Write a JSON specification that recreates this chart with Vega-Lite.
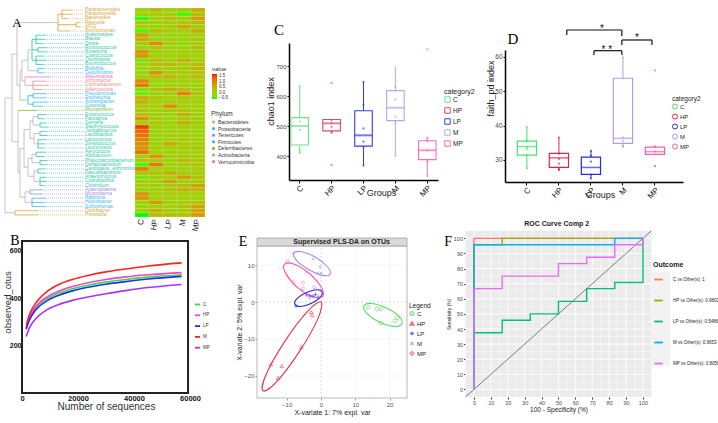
{
"$schema":"https://vega.github.io/schema/vega-lite/v6.json",
"width":718,"height":423,"autosize":{"type":"none"},"padding":0,"background":"white",
"config":{"view":{"stroke":null},"font":"Liberation Sans","axis":{"grid":false,"labelOverlap":false,"labelFlush":false},"text":{"font":"Liberation Sans"}},
"resolve":{"scale":{"x":"independent","y":"independent","color":"independent","stroke":"independent","shape":"independent","strokeWidth":"independent"},"axis":{"x":"independent","y":"independent"},"legend":{"color":"independent","stroke":"independent","shape":"independent","strokeWidth":"independent"}},
"datasets":{
"taxa":[
{"r":1,"t":"Parabacteroides","p":"Bacteroidetes","ph":22,"h":12,"C":0,"HP":0.4,"LP":0.1,"M":0.15,"MP":0.55},
{"r":2,"t":"Paraprevotella","p":"Bacteroidetes","ph":22,"h":12,"C":0.1,"HP":0.15,"LP":0.15,"M":-0.45,"MP":0.3},
{"r":3,"t":"Bacteroides","p":"Bacteroidetes","ph":22,"h":16,"C":-0.5,"HP":0.1,"LP":0.3,"M":0.15,"MP":0.75},
{"r":4,"t":"Rikenella","p":"Bacteroidetes","ph":8,"h":4,"C":0.15,"HP":0.05,"LP":0.1,"M":0.15,"MP":0.4},
{"r":5,"t":"AF12","p":"Bacteroidetes","ph":8,"h":4,"C":0.1,"HP":0.05,"LP":0.15,"M":0.6,"MP":0.05},
{"r":6,"t":"Butyricimonas","p":"Bacteroidetes","ph":26,"h":14,"C":-0.4,"HP":0.35,"LP":0.15,"M":0.1,"MP":0.6},
{"r":7,"t":"Anaerostipes","p":"Firmicutes","ph":48,"h":39,"C":0.7,"HP":0.1,"LP":0,"M":0.1,"MP":0.1},
{"r":8,"t":"Blautia","p":"Firmicutes","ph":48,"h":39,"C":0.6,"HP":0,"LP":0.1,"M":0.05,"MP":0.2},
{"r":9,"t":"Dorea","p":"Firmicutes","ph":48,"h":42,"C":0.15,"HP":0.95,"LP":0.1,"M":0,"MP":0.1},
{"r":10,"t":"Ruminococcus","p":"Firmicutes","ph":46,"h":37,"C":0,"HP":0.25,"LP":0.1,"M":0,"MP":0.35},
{"r":11,"t":"Roseburia","p":"Firmicutes","ph":46,"h":37,"C":0.85,"HP":0.1,"LP":0.1,"M":0.1,"MP":0},
{"r":12,"t":"Coprococcus","p":"Firmicutes","ph":48,"h":40,"C":0.8,"HP":0.1,"LP":0,"M":0.1,"MP":0.1},
{"r":13,"t":"Oscillospira","p":"Firmicutes","ph":48,"h":38,"C":-0.2,"HP":0.25,"LP":0.1,"M":0.5,"MP":0.1},
{"r":14,"t":"Butyricicoccus","p":"Firmicutes","ph":48,"h":40,"C":0,"HP":0.35,"LP":0.45,"M":0.1,"MP":0.3},
{"r":15,"t":"Bilophila","p":"Proteobacteria","ph":46,"h":40,"C":0,"HP":0.1,"LP":0.15,"M":0.25,"MP":0.45},
{"r":16,"t":"Desulfovibrio","p":"Proteobacteria","ph":46,"h":40,"C":0,"HP":0.85,"LP":0.1,"M":0.1,"MP":0.2},
{"r":17,"t":"Akkermansia","p":"Verrucomicrobia","ph":59,"h":34,"C":0.1,"HP":0.25,"LP":0.45,"M":0.15,"MP":0.3},
{"r":18,"t":"Arthrobacter","p":"Actinobacteria","ph":51,"h":38,"C":0.95,"HP":0,"LP":0.1,"M":0.1,"MP":0.1},
{"r":19,"t":"Corynebacterium","p":"Actinobacteria","ph":51,"h":36,"C":1.15,"HP":0,"LP":0,"M":0.1,"MP":0.1},
{"r":20,"t":"Adlercreutzia","p":"Actinobacteria","ph":51,"h":42,"C":-0.2,"HP":0.3,"LP":0.55,"M":0.35,"MP":0.1},
{"r":21,"t":"Pseudomonas","p":"Proteobacteria","ph":51,"h":38,"C":-0.3,"HP":0,"LP":0.1,"M":1,"MP":0.25},
{"r":22,"t":"Escherichia","p":"Proteobacteria","ph":51,"h":38,"C":0.55,"HP":0.25,"LP":0.1,"M":0.2,"MP":0.1},
{"r":23,"t":"Acinetobacter","p":"Proteobacteria","ph":51,"h":36,"C":0.5,"HP":0.1,"LP":0.1,"M":0.1,"MP":0.1},
{"r":24,"t":"Sutterella","p":"Proteobacteria","ph":51,"h":42,"C":0.1,"HP":0.1,"LP":0.85,"M":0.1,"MP":0.1},
{"r":25,"t":"Mucispirillum","p":"Deferribacteres","ph":66,"h":47,"C":0.25,"HP":0.1,"LP":0.2,"M":0.2,"MP":0.1},
{"r":26,"t":"Enterococcus","p":"Firmicutes","ph":46,"h":38,"C":0.3,"HP":0.1,"LP":0.1,"M":0.5,"MP":0.1},
{"r":27,"t":"Facklamia","p":"Firmicutes","ph":46,"h":40,"C":0.85,"HP":0.1,"LP":0,"M":0.1,"MP":0.1},
{"r":28,"t":"Gemella","p":"Firmicutes","ph":44,"h":38,"C":0.1,"HP":0.2,"LP":0.1,"M":0.55,"MP":0.1},
{"r":29,"t":"Staphylococcus","p":"Firmicutes","ph":44,"h":36,"C":1.55,"HP":0.1,"LP":0,"M":0.1,"MP":0.05},
{"r":30,"t":"Jeotgalicoccus","p":"Firmicutes","ph":44,"h":37,"C":1.3,"HP":0,"LP":0.1,"M":0.1,"MP":0},
{"r":31,"t":"Lactobacillus","p":"Firmicutes","ph":44,"h":37,"C":1.2,"HP":0.1,"LP":0.1,"M":0.1,"MP":0.1},
{"r":32,"t":"Lactococcus","p":"Firmicutes","ph":46,"h":38,"C":1.05,"HP":0,"LP":0.1,"M":0.2,"MP":0.1},
{"r":33,"t":"Streptococcus","p":"Firmicutes","ph":46,"h":39,"C":0.9,"HP":0.1,"LP":0.6,"M":0.1,"MP":0.1},
{"r":34,"t":"Leuconostoc","p":"Firmicutes","ph":46,"h":40,"C":0.85,"HP":0.1,"LP":0.1,"M":0.2,"MP":0.2},
{"r":35,"t":"Aerococcus","p":"Firmicutes","ph":48,"h":38,"C":1.2,"HP":0.1,"LP":0.1,"M":0.1,"MP":0.1},
{"r":36,"t":"Allobaculum","p":"Firmicutes","ph":48,"h":40,"C":0.15,"HP":0.8,"LP":0.1,"M":0.1,"MP":0.1},
{"r":37,"t":"Phascolarctobacterium","p":"Firmicutes","ph":44,"h":37,"C":0.25,"HP":0.2,"LP":0.1,"M":0.45,"MP":0.2},
{"r":38,"t":"Dehalobacterium","p":"Firmicutes","ph":44,"h":37,"C":-0.45,"HP":1.1,"LP":0.1,"M":0.1,"MP":0.3},
{"r":39,"t":"Candidatus_Arthromitus","p":"Firmicutes","ph":46,"h":39,"C":1.05,"HP":0.1,"LP":0,"M":0.1,"MP":0.1},
{"r":40,"t":"Faecalibacterium","p":"Firmicutes","ph":46,"h":39,"C":0.25,"HP":0.25,"LP":0.55,"M":0.1,"MP":0.1},
{"r":41,"t":"Anaerotruncus","p":"Firmicutes","ph":44,"h":38,"C":-0.2,"HP":0.1,"LP":0.1,"M":0.75,"MP":0.3},
{"r":42,"t":"Coprobacillus","p":"Firmicutes","ph":44,"h":38,"C":0.1,"HP":0.1,"LP":0.65,"M":0.1,"MP":0.1},
{"r":43,"t":"Clostridium","p":"Firmicutes","ph":44,"h":40,"C":0.1,"HP":0.1,"LP":0.15,"M":0.3,"MP":0.7},
{"r":44,"t":"Anaeroplasma","p":"Tenericutes","ph":54,"h":42,"C":0.1,"HP":0.1,"LP":0.25,"M":0.45,"MP":0.4},
{"r":45,"t":"Mycoplasma","p":"Tenericutes","ph":54,"h":42,"C":0.85,"HP":0.1,"LP":0.1,"M":0.1,"MP":0.1},
{"r":46,"t":"Ralstonia","p":"Proteobacteria","ph":52,"h":38,"C":0.8,"HP":0.1,"LP":0.1,"M":0.1,"MP":0.1},
{"r":47,"t":"Helicobacter","p":"Proteobacteria","ph":52,"h":39,"C":0.1,"HP":0.8,"LP":0.1,"M":0.1,"MP":0.25},
{"r":48,"t":"Sulfurimonas","p":"Proteobacteria","ph":52,"h":38,"C":0,"HP":0.1,"LP":0.1,"M":0.3,"MP":0.65},
{"r":49,"t":"Odoribacter","p":"Bacteroidetes","ph":69,"h":46,"C":0.1,"HP":0.55,"LP":0.1,"M":0.1,"MP":0.65},
{"r":50,"t":"Prevotella","p":"Bacteroidetes","ph":69,"h":46,"C":-0.55,"HP":0.3,"LP":0.3,"M":0.25,"MP":0.75}
],
"tree":[
{"x":22,"x2":22,"y":1,"y2":3,"c":"Bacteroidetes"},{"x":8,"x2":8,"y":4,"y2":5,"c":"Bacteroidetes"},{"x":26,"x2":26,"y":2,"y2":6,"c":"Bacteroidetes"},
{"x":48,"x2":48,"y":7,"y2":9,"c":"Firmicutes"},{"x":46,"x2":46,"y":10,"y2":11,"c":"Firmicutes"},{"x":48,"x2":48,"y":12,"y2":14,"c":"Firmicutes"},{"x":52,"x2":52,"y":8,"y2":13,"c":"Firmicutes"},
{"x":46,"x2":46,"y":15,"y2":16,"c":"Proteobacteria"},{"x":56,"x2":56,"y":10.5,"y2":15.5,"c":"g"},{"x":51,"x2":51,"y":18,"y2":20,"c":"Actinobacteria"},
{"x":59,"x2":59,"y":17,"y2":19,"c":"g"},{"x":62,"x2":62,"y":13,"y2":18,"c":"g"},{"x":51,"x2":51,"y":21,"y2":22,"c":"Proteobacteria"},{"x":51,"x2":51,"y":23,"y2":24,"c":"Proteobacteria"},
{"x":56,"x2":56,"y":21.5,"y2":23.5,"c":"Proteobacteria"},{"x":64,"x2":64,"y":15.5,"y2":22.5,"c":"g"},{"x":67,"x2":67,"y":4,"y2":19,"c":"g"},
{"x":46,"x2":46,"y":26,"y2":27,"c":"Firmicutes"},{"x":44,"x2":44,"y":28,"y2":29,"c":"Firmicutes"},{"x":44,"x2":44,"y":30,"y2":31,"c":"Firmicutes"},{"x":46,"x2":46,"y":32,"y2":34,"c":"Firmicutes"},
{"x":48,"x2":48,"y":35,"y2":36,"c":"Firmicutes"},{"x":44,"x2":44,"y":37,"y2":38,"c":"Firmicutes"},{"x":46,"x2":46,"y":39,"y2":40,"c":"Firmicutes"},{"x":44,"x2":44,"y":41,"y2":43,"c":"Firmicutes"},
{"x":51,"x2":51,"y":26.5,"y2":28.5,"c":"g"},{"x":50,"x2":50,"y":30.5,"y2":33,"c":"g"},{"x":54,"x2":54,"y":27.5,"y2":31.75,"c":"g"},{"x":52,"x2":52,"y":35.5,"y2":37.5,"c":"g"},
{"x":50,"x2":50,"y":39.5,"y2":42,"c":"g"},{"x":56,"x2":56,"y":36.5,"y2":40.75,"c":"g"},{"x":60,"x2":60,"y":29.6,"y2":38.6,"c":"g"},
{"x":54,"x2":54,"y":44,"y2":45,"c":"Tenericutes"},{"x":52,"x2":52,"y":46,"y2":48,"c":"Proteobacteria"},{"x":59,"x2":59,"y":44.5,"y2":47,"c":"g"},
{"x":64,"x2":64,"y":34.1,"y2":45.75,"c":"g"},{"x":66,"x2":66,"y":25,"y2":39.9,"c":"g"},{"x":72,"x2":72,"y":11.5,"y2":32.5,"c":"g"},
{"x":69,"x2":69,"y":49,"y2":50,"c":"Bacteroidetes"},{"x":79,"x2":79,"y":22,"y2":49.5,"c":"g"},
{"x":26,"x2":22,"y":2,"y2":2,"c":"Bacteroidetes"},{"x":26,"x2":8,"y":4.5,"y2":4.5,"c":"Bacteroidetes"},
{"x":52,"x2":48,"y":8,"y2":8,"c":"Firmicutes"},{"x":52,"x2":46,"y":10.5,"y2":10.5,"c":"Firmicutes"},{"x":52,"x2":48,"y":13,"y2":13,"c":"Firmicutes"},
{"x":56,"x2":52,"y":10.5,"y2":10.5,"c":"g"},{"x":56,"x2":46,"y":15.5,"y2":15.5,"c":"g"},{"x":59,"x2":51,"y":19,"y2":19,"c":"g"},
{"x":62,"x2":56,"y":13,"y2":13,"c":"g"},{"x":62,"x2":59,"y":18,"y2":18,"c":"g"},
{"x":56,"x2":51,"y":21.5,"y2":21.5,"c":"Proteobacteria"},{"x":56,"x2":51,"y":23.5,"y2":23.5,"c":"Proteobacteria"},
{"x":64,"x2":62,"y":15.5,"y2":15.5,"c":"g"},{"x":64,"x2":56,"y":22.5,"y2":22.5,"c":"g"},{"x":67,"x2":26,"y":4,"y2":4,"c":"g"},{"x":67,"x2":64,"y":19,"y2":19,"c":"g"},
{"x":51,"x2":46,"y":26.5,"y2":26.5,"c":"g"},{"x":51,"x2":44,"y":28.5,"y2":28.5,"c":"g"},{"x":50,"x2":44,"y":30.5,"y2":30.5,"c":"g"},{"x":50,"x2":46,"y":33,"y2":33,"c":"g"},
{"x":54,"x2":51,"y":27.5,"y2":27.5,"c":"g"},{"x":54,"x2":50,"y":31.75,"y2":31.75,"c":"g"},{"x":52,"x2":48,"y":35.5,"y2":35.5,"c":"g"},{"x":52,"x2":44,"y":37.5,"y2":37.5,"c":"g"},
{"x":50,"x2":46,"y":39.5,"y2":39.5,"c":"g"},{"x":50,"x2":44,"y":42,"y2":42,"c":"g"},{"x":56,"x2":52,"y":36.5,"y2":36.5,"c":"g"},{"x":56,"x2":50,"y":40.75,"y2":40.75,"c":"g"},
{"x":60,"x2":54,"y":29.6,"y2":29.6,"c":"g"},{"x":60,"x2":56,"y":38.6,"y2":38.6,"c":"g"},{"x":59,"x2":54,"y":44.5,"y2":44.5,"c":"g"},{"x":59,"x2":52,"y":47,"y2":47,"c":"g"},
{"x":64,"x2":60,"y":34.1,"y2":34.1,"c":"g"},{"x":64,"x2":59,"y":45.75,"y2":45.75,"c":"g"},{"x":66,"x2":64,"y":39.9,"y2":39.9,"c":"g"},
{"x":72,"x2":67,"y":11.5,"y2":11.5,"c":"g"},{"x":72,"x2":66,"y":32.5,"y2":32.5,"c":"g"},{"x":79,"x2":72,"y":22,"y2":22,"c":"g"},{"x":79,"x2":69,"y":49.5,"y2":49.5,"c":"g"}
],
"rare":[
{"g":"C","n":1500,"v":275},{"g":"C","n":2500,"v":310},{"g":"C","n":4000,"v":344},{"g":"C","n":6000,"v":372},{"g":"C","n":9000,"v":398},{"g":"C","n":13000,"v":420},{"g":"C","n":18000,"v":439},{"g":"C","n":24000,"v":455},{"g":"C","n":30000,"v":467},{"g":"C","n":37000,"v":478},{"g":"C","n":45000,"v":488},{"g":"C","n":57000,"v":498},
{"g":"HP","n":1500,"v":276},{"g":"HP","n":2500,"v":313},{"g":"HP","n":4000,"v":348},{"g":"HP","n":6000,"v":378},{"g":"HP","n":9000,"v":405},{"g":"HP","n":13000,"v":428},{"g":"HP","n":18000,"v":448},{"g":"HP","n":24000,"v":465},{"g":"HP","n":30000,"v":478},{"g":"HP","n":37000,"v":489},{"g":"HP","n":45000,"v":498},{"g":"HP","n":57000,"v":507},
{"g":"LP","n":1500,"v":268},{"g":"LP","n":2500,"v":303},{"g":"LP","n":4000,"v":336},{"g":"LP","n":6000,"v":363},{"g":"LP","n":9000,"v":389},{"g":"LP","n":13000,"v":411},{"g":"LP","n":18000,"v":430},{"g":"LP","n":24000,"v":446},{"g":"LP","n":30000,"v":458},{"g":"LP","n":37000,"v":469},{"g":"LP","n":45000,"v":480},{"g":"LP","n":57000,"v":491},
{"g":"M","n":1500,"v":285},{"g":"M","n":2500,"v":325},{"g":"M","n":4000,"v":362},{"g":"M","n":6000,"v":395},{"g":"M","n":9000,"v":428},{"g":"M","n":13000,"v":456},{"g":"M","n":18000,"v":478},{"g":"M","n":24000,"v":496},{"g":"M","n":30000,"v":510},{"g":"M","n":37000,"v":522},{"g":"M","n":45000,"v":535},{"g":"M","n":57000,"v":548},
{"g":"MP","n":1500,"v":238},{"g":"MP","n":2500,"v":270},{"g":"MP","n":4000,"v":300},{"g":"MP","n":6000,"v":326},{"g":"MP","n":9000,"v":351},{"g":"MP","n":13000,"v":372},{"g":"MP","n":18000,"v":390},{"g":"MP","n":24000,"v":405},{"g":"MP","n":30000,"v":418},{"g":"MP","n":37000,"v":431},{"g":"MP","n":45000,"v":444},{"g":"MP","n":57000,"v":457}
],
"chaoBox":[{"g":"C","lo":409,"q1":437,"med":500,"q3":528,"hi":633},{"g":"HP","lo":478,"q1":484,"med":509,"q3":522,"hi":522},{"g":"LP","lo":368,"q1":433,"med":469,"q3":551,"hi":647},{"g":"M","lo":401,"q1":518,"med":561,"q3":618,"hi":692},{"g":"MP","lo":333,"q1":388,"med":419,"q3":451,"hi":461}],
"chao":[{"g":"C","v":633},{"g":"C","v":530},{"g":"C","v":515},{"g":"C","v":487},{"g":"C","v":418},{"g":"C","v":410},
{"g":"HP","v":644},{"g":"HP","v":520},{"g":"HP","v":510},{"g":"HP","v":497},{"g":"HP","v":480},{"g":"HP","v":478},{"g":"HP","v":370},
{"g":"LP","v":647},{"g":"LP","v":571},{"g":"LP","v":492},{"g":"LP","v":448},{"g":"LP","v":430},{"g":"LP","v":368},
{"g":"M","v":695},{"g":"M","v":630},{"g":"M","v":589},{"g":"M","v":531},{"g":"M","v":512},{"g":"M","v":401},
{"g":"MP","v":756},{"g":"MP","v":461},{"g":"MP","v":450},{"g":"MP","v":420},{"g":"MP","v":381},{"g":"MP","v":333}],
"faithBox":[{"g":"C","lo":27.5,"q1":31.4,"med":33.9,"q3":35.5,"hi":39.5},{"g":"HP","lo":27.0,"q1":27.8,"med":30.6,"q3":31.9,"hi":36.5},{"g":"LP","lo":24.6,"q1":25.8,"med":27.8,"q3":30.8,"hi":32.6},{"g":"M","lo":33.8,"q1":34.8,"med":36.3,"q3":53.8,"hi":59.9},{"g":"MP","lo":31.6,"q1":31.6,"med":32.4,"q3":33.7,"hi":34.0}],
"faith":[{"g":"C","v":39.5},{"g":"C","v":35.6},{"g":"C","v":33.8},{"g":"C","v":33.2},{"g":"C","v":31.5},{"g":"C","v":27.5},
{"g":"HP","v":36.5},{"g":"HP","v":31.8},{"g":"HP","v":30.3},{"g":"HP","v":28.9},{"g":"HP","v":27.3},{"g":"HP","v":27.0},
{"g":"LP","v":32.6},{"g":"LP","v":31.2},{"g":"LP","v":29.5},{"g":"LP","v":25.7},{"g":"LP","v":24.6},
{"g":"M","v":59.9},{"g":"M","v":36.5},{"g":"M","v":35.5},{"g":"M","v":34.0},{"g":"M","v":33.8},
{"g":"MP","v":56.1},{"g":"MP","v":34.0},{"g":"MP","v":32.4},{"g":"MP","v":28.2},{"g":"MP","v":28.2}],
"brk":[{"x":1.25,"x2":2.97,"y":67.87,"y2":67.87},{"x":1.25,"x2":1.25,"y":67.87,"y2":66.4},{"x":2.97,"x2":2.97,"y":67.87,"y2":66.1},
{"x":2.1,"x2":2.97,"y":61.84,"y2":61.84},{"x":2.1,"x2":2.1,"y":61.84,"y2":60.6},{"x":2.97,"x2":2.97,"y":61.84,"y2":60.6},
{"x":2.97,"x2":3.91,"y":64.96,"y2":64.96},{"x":2.97,"x2":2.97,"y":64.96,"y2":63.5},{"x":3.91,"x2":3.91,"y":64.96,"y2":63.5}],
"stars":[{"x":2.35,"y":67.4,"s":"*"},{"x":2.5,"y":61.2,"s":"* *"},{"x":3.44,"y":64.8,"s":"*"}],
"pls":[{"g":"C","x":13.7,"y":-1.4},{"g":"C","x":16.3,"y":-1.9},{"g":"C","x":17.5,"y":-1.9},{"g":"C","x":17.5,"y":-5.7},{"g":"C","x":21.6,"y":-5.1},{"g":"C","x":22.2,"y":-4.3},
{"g":"HP","x":-2.9,"y":-2.7},{"g":"HP","x":-2.6,"y":-3.5},{"g":"HP","x":-5.8,"y":-12.2},{"g":"HP","x":-11.4,"y":-17.3},{"g":"HP","x":-12.5,"y":-20.5},{"g":"HP","x":-14.6,"y":-16.8},
{"g":"LP","x":-7.3,"y":-1.1},{"g":"LP","x":-4.2,"y":1.9},{"g":"LP","x":-3.2,"y":1.6},{"g":"LP","x":-2.3,"y":1.6},{"g":"LP","x":-1.6,"y":2.0},{"g":"LP","x":-0.8,"y":1.3},
{"g":"M","x":-8.2,"y":13.2},{"g":"M","x":-2.3,"y":11.6},{"g":"M","x":-0.3,"y":9.5},{"g":"M","x":-0.9,"y":7.8},{"g":"M","x":0,"y":7.8},{"g":"M","x":-4.4,"y":8.1},
{"g":"MP","x":-9.7,"y":10.9},{"g":"MP","x":-8.1,"y":5.5},{"g":"MP","x":-5.3,"y":5.2},{"g":"MP","x":-5.2,"y":3.7},{"g":"MP","x":-2.0,"y":4.0},{"g":"MP","x":-3.2,"y":1.2}],
"ell":[
{"g":"C","i":0,"x":23.6,"y":-5.9},{"g":"C","i":1,"x":21.3,"y":-6.6},{"g":"C","i":2,"x":17.1,"y":-5.5},{"g":"C","i":3,"x":13.5,"y":-3.2},{"g":"C","i":4,"x":12.5,"y":-1.1},{"g":"C","i":5,"x":14.8,"y":-0.4},{"g":"C","i":6,"x":19.1,"y":-1.6},{"g":"C","i":7,"x":22.7,"y":-3.8},
{"g":"HP","i":0,"x":0,"y":0},{"g":"HP","i":1,"x":-0.9,"y":-4.5},{"g":"HP","i":2,"x":-6.3,"y":-13.4},{"g":"HP","i":3,"x":-12.9,"y":-21.5},{"g":"HP","i":4,"x":-16.9,"y":-24.0},{"g":"HP","i":5,"x":-16.0,"y":-19.6},{"g":"HP","i":6,"x":-10.6,"y":-10.7},{"g":"HP","i":7,"x":-4.0,"y":-2.6},
{"g":"LP","i":0,"x":0.3,"y":2.8},{"g":"LP","i":1,"x":-0.3,"y":1.2},{"g":"LP","i":2,"x":-2.9,"y":-0.4},{"g":"LP","i":3,"x":-5.9,"y":-1.2},{"g":"LP","i":4,"x":-7.6,"y":-0.6},{"g":"LP","i":5,"x":-7.0,"y":0.9},{"g":"LP","i":6,"x":-4.4,"y":2.5},{"g":"LP","i":7,"x":-1.4,"y":3.3},
{"g":"M","i":0,"x":2.7,"y":7.6},{"g":"M","i":1,"x":0.4,"y":7.2},{"g":"M","i":2,"x":-3.6,"y":8.8},{"g":"M","i":3,"x":-7.1,"y":11.2},{"g":"M","i":4,"x":-7.9,"y":13.2},{"g":"M","i":5,"x":-5.7,"y":13.6},{"g":"M","i":6,"x":-1.6,"y":12.1},{"g":"M","i":7,"x":1.8,"y":9.6},
{"g":"MP","i":0,"x":0.5,"y":1.5},{"g":"MP","i":1,"x":-2.3,"y":1.4},{"g":"MP","i":2,"x":-6.8,"y":3.9},{"g":"MP","i":3,"x":-10.2,"y":7.6},{"g":"MP","i":4,"x":-10.7,"y":10.2},{"g":"MP","i":5,"x":-7.8,"y":10.2},{"g":"MP","i":6,"x":-3.4,"y":7.7},{"g":"MP","i":7,"x":0,"y":4.1}
],
"roc":[
{"g":"C vs Other(s): 1","i":0,"x":0,"y":0},{"g":"C vs Other(s): 1","i":1,"x":0,"y":100},{"g":"C vs Other(s): 1","i":2,"x":100,"y":100},
{"g":"HP vs Other(s): 0.9801","i":0,"x":0,"y":0},{"g":"HP vs Other(s): 0.9801","i":1,"x":0,"y":95.8},{"g":"HP vs Other(s): 0.9801","i":2,"x":16.7,"y":95.8},{"g":"HP vs Other(s): 0.9801","i":3,"x":16.7,"y":100},{"g":"HP vs Other(s): 0.9801","i":4,"x":100,"y":100},
{"g":"LP vs Other(s): 0.5486","i":0,"x":0,"y":0},{"g":"LP vs Other(s): 0.5486","i":1,"x":0,"y":37.5},{"g":"LP vs Other(s): 0.5486","i":2,"x":16.7,"y":37.5},{"g":"LP vs Other(s): 0.5486","i":3,"x":16.7,"y":45.8},{"g":"LP vs Other(s): 0.5486","i":4,"x":33.3,"y":45.8},{"g":"LP vs Other(s): 0.5486","i":5,"x":33.3,"y":50},{"g":"LP vs Other(s): 0.5486","i":6,"x":50,"y":50},{"g":"LP vs Other(s): 0.5486","i":7,"x":50,"y":58.3},{"g":"LP vs Other(s): 0.5486","i":8,"x":66.7,"y":58.3},{"g":"LP vs Other(s): 0.5486","i":9,"x":66.7,"y":66.7},{"g":"LP vs Other(s): 0.5486","i":10,"x":83.3,"y":66.7},{"g":"LP vs Other(s): 0.5486","i":11,"x":83.3,"y":70.8},{"g":"LP vs Other(s): 0.5486","i":12,"x":100,"y":70.8},{"g":"LP vs Other(s): 0.5486","i":13,"x":100,"y":100},
{"g":"M vs Other(s): 0.9653","i":0,"x":0,"y":0},{"g":"M vs Other(s): 0.9653","i":1,"x":0,"y":95.8},{"g":"M vs Other(s): 0.9653","i":2,"x":83.3,"y":95.8},{"g":"M vs Other(s): 0.9653","i":3,"x":83.3,"y":100},{"g":"M vs Other(s): 0.9653","i":4,"x":100,"y":100},
{"g":"MP vs Other(s): 0.8056","i":0,"x":0,"y":0},{"g":"MP vs Other(s): 0.8056","i":1,"x":0,"y":66.7},{"g":"MP vs Other(s): 0.8056","i":2,"x":16.7,"y":66.7},{"g":"MP vs Other(s): 0.8056","i":3,"x":16.7,"y":75},{"g":"MP vs Other(s): 0.8056","i":4,"x":50,"y":75},{"g":"MP vs Other(s): 0.8056","i":5,"x":50,"y":83.3},{"g":"MP vs Other(s): 0.8056","i":6,"x":66.7,"y":83.3},{"g":"MP vs Other(s): 0.8056","i":7,"x":66.7,"y":87.5},{"g":"MP vs Other(s): 0.8056","i":8,"x":83.3,"y":87.5},{"g":"MP vs Other(s): 0.8056","i":9,"x":83.3,"y":95.8},{"g":"MP vs Other(s): 0.8056","i":10,"x":100,"y":95.8},{"g":"MP vs Other(s): 0.8056","i":11,"x":100,"y":100}
],
"gF":[{"v":0,"k":"maj"},{"v":5,"k":"min"},{"v":10,"k":"maj"},{"v":15,"k":"min"},{"v":20,"k":"maj"},{"v":25,"k":"min"},{"v":30,"k":"maj"},{"v":35,"k":"min"},{"v":40,"k":"maj"},{"v":45,"k":"min"},{"v":50,"k":"maj"},{"v":55,"k":"min"},{"v":60,"k":"maj"},{"v":65,"k":"min"},{"v":70,"k":"maj"},{"v":75,"k":"min"},{"v":80,"k":"maj"},{"v":85,"k":"min"},{"v":90,"k":"maj"},{"v":95,"k":"min"},{"v":100,"k":"maj"}]
},
"layer":[
{"data":{"name":"tree"},"mark":{"type":"rule","strokeWidth":0.9},
 "encoding":{"x":{"field":"x","type":"quantitative","scale":{"domain":[0,80],"range":[84,4],"nice":false,"zero":false},"axis":null},"x2":{"field":"x2"},
 "y":{"field":"y","type":"quantitative","scale":{"domain":[0.5,50.5],"range":[8,217],"nice":false,"zero":false},"axis":null},"y2":{"field":"y2"},
 "color":{"field":"c","type":"nominal","scale":{"domain":["Bacteroidetes","Proteobacteria","Tenericutes","Firmicutes","Deferribacteres","Actinobacteria","Verrucomicrobia","g"],"range":["#D8A840","#3DB8EE","#A58AE8","#2FC7A8","#86BB2A","#F58A8A","#F06BD6","#BDBDBD"]},"legend":null}}},
{"data":{"name":"taxa"},"mark":{"type":"rule","strokeWidth":0.8},
 "encoding":{"x":{"field":"ph","type":"quantitative","scale":{"domain":[0,80],"range":[84,4],"nice":false,"zero":false},"axis":null},"x2":{"field":"h"},
 "y":{"field":"r","type":"quantitative","scale":{"domain":[0.5,50.5],"range":[8,217],"nice":false,"zero":false},"axis":null},
 "color":{"field":"p","type":"nominal","scale":{"domain":["Bacteroidetes","Proteobacteria","Tenericutes","Firmicutes","Deferribacteres","Actinobacteria","Verrucomicrobia"],"range":["#D8A840","#3DB8EE","#A58AE8","#2FC7A8","#86BB2A","#F58A8A","#F06BD6"]},"legend":null}}},
{"data":{"name":"taxa"},"mark":{"type":"rule","strokeWidth":0.6,"strokeDash":[1,1]},
 "encoding":{"x":{"field":"h","type":"quantitative","scale":{"domain":[0,80],"range":[84,4],"nice":false,"zero":false},"axis":null},"x2":{"datum":0},
 "y":{"field":"r","type":"quantitative","scale":{"domain":[0.5,50.5],"range":[8,217],"nice":false,"zero":false},"axis":null},
 "color":{"field":"p","type":"nominal","scale":{"domain":["Bacteroidetes","Proteobacteria","Tenericutes","Firmicutes","Deferribacteres","Actinobacteria","Verrucomicrobia"],"range":["#D8A840","#3DB8EE","#A58AE8","#2FC7A8","#86BB2A","#F58A8A","#F06BD6"]},"legend":null}}},
{"data":{"name":"taxa"},"mark":{"type":"text","align":"left","baseline":"middle","dx":1,"fontSize":4.8},
 "encoding":{"x":{"datum":0,"type":"quantitative","scale":{"domain":[0,80],"range":[84,4],"nice":false,"zero":false},"axis":null},
 "y":{"field":"r","type":"quantitative","scale":{"domain":[0.5,50.5],"range":[8,217],"nice":false,"zero":false},"axis":null},
 "text":{"field":"t"},
 "color":{"field":"p","type":"nominal","scale":{"domain":["Bacteroidetes","Proteobacteria","Tenericutes","Firmicutes","Deferribacteres","Actinobacteria","Verrucomicrobia"],"range":["#D8A840","#3DB8EE","#A58AE8","#2FC7A8","#86BB2A","#F58A8A","#F06BD6"]},
  "legend":{"title":"Phylum","orient":"none","legendX":211,"legendY":111,"titleFontSize":6.5,"titleFontWeight":"normal","titleColor":"#333","labelFontSize":5,"labelColor":"#333","symbolType":"circle","symbolSize":10,"rowPadding":0.6,"labelOffset":2,"padding":0,"titlePadding":2}}}},
{"data":{"name":"taxa"},"transform":[{"fold":["C","HP","LP","M","MP"],"as":["g","v"]}],"mark":{"type":"rect","stroke":"#d6dcb8","strokeWidth":0.25},
 "encoding":{"x":{"field":"g","type":"nominal","scale":{"type":"band","domain":["C","HP","LP","M","MP"],"range":[135,205],"paddingInner":0,"paddingOuter":0},
  "axis":{"orient":"bottom","offset":-206,"labelAngle":-78,"labelAlign":"right","labelBaseline":"middle","labelFontSize":8,"labelColor":"#222","labelPadding":2,"ticks":false,"domain":false,"title":null}},
 "y":{"field":"r","type":"ordinal","scale":{"type":"band","range":[8,217],"paddingInner":0,"paddingOuter":0},"axis":null},
 "color":{"field":"v","type":"quantitative","scale":{"domain":[-0.55,1.7],"range":["#00ff00","#ff0000"],"interpolate":"lab"},
  "legend":{"title":"value","orient":"none","legendX":212,"legendY":66,"titleFontSize":6,"titleFontWeight":"normal","titleColor":"#333","labelFontSize":4.5,"labelColor":"#333","gradientLength":25,"gradientThickness":5,"values":[-0.5,0,0.5,1,1.5],"format":".1f","direction":"vertical","padding":0,"titlePadding":2,"labelOffset":2}}}},
{"data":{"values":[{}]},"mark":{"type":"text","font":"Liberation Serif","fontSize":13,"text":"A"},
 "encoding":{"x":{"datum":67,"type":"quantitative","scale":{"domain":[0,80],"range":[84,4],"nice":false,"zero":false},"axis":null},
 "y":{"datum":4.2,"type":"quantitative","scale":{"domain":[0.5,50.5],"range":[8,217],"nice":false,"zero":false},"axis":null}}},

{"data":{"values":[{}]},"mark":{"type":"rect","fillOpacity":0,"stroke":"#222","strokeWidth":2},
 "encoding":{"x":{"datum":0,"type":"quantitative","scale":{"domain":[0,60000],"range":[22,190],"nice":false,"zero":false},"axis":null},"x2":{"datum":59300},
 "y":{"datum":0,"type":"quantitative","scale":{"domain":[0,640],"range":[393,241],"nice":false,"zero":false},"axis":null},"y2":{"datum":640}}},
{"data":{"name":"rare"},"mark":{"type":"line","strokeWidth":1.6,"interpolate":"monotone"},
 "encoding":{"x":{"field":"n","type":"quantitative","scale":{"domain":[0,60000],"range":[22,190],"nice":false,"zero":false},
  "axis":{"orient":"bottom","offset":-30,"values":[0,20000,40000,60000],"format":"d","labelFontSize":7.5,"labelFontWeight":"bold","labelColor":"#111","ticks":false,"domain":false,"labelPadding":1,"title":"Number of sequences","titleFontSize":10,"titleFontWeight":"normal","titleColor":"#333","titlePadding":0}},
 "y":{"field":"v","type":"quantitative","scale":{"domain":[0,640],"range":[393,241],"nice":false,"zero":false},
  "axis":{"orient":"left","offset":-22,"values":[200,400,600],"labelFontSize":7,"labelFontWeight":"bold","labelColor":"#111","ticks":false,"domain":false,"labelPadding":1,"title":"observed_otus","titleFontSize":9.5,"titleFontWeight":"normal","titleColor":"#333","titleX":-15,"titleY":302,"titleBaseline":"middle"}},
 "color":{"field":"g","type":"nominal","scale":{"domain":["C","HP","LP","M","MP"],"range":["#33E03A","#FF3FCB","#1F2FEE","#FF2020","#A833FF"]},
  "legend":{"title":null,"orient":"none","legendX":194,"legendY":301,"labelFontSize":4.5,"labelColor":"#333","symbolType":"stroke","symbolSize":25,"symbolStrokeWidth":1.8,"rowPadding":1.8,"labelOffset":2,"padding":0}}}},
{"data":{"values":[{}]},"mark":{"type":"text","font":"Liberation Serif","fontSize":14,"text":"B"},
 "encoding":{"x":{"datum":-2500,"type":"quantitative","scale":{"domain":[0,60000],"range":[22,190],"nice":false,"zero":false},"axis":null},
 "y":{"datum":638,"type":"quantitative","scale":{"domain":[0,640],"range":[393,241],"nice":false,"zero":false},"axis":null}}},

{"data":{"name":"chaoBox"},"mark":{"type":"rule","strokeWidth":1},
 "encoding":{"x":{"field":"g","type":"nominal","scale":{"type":"band","domain":["C","HP","LP","M","MP"],"range":[289,438],"paddingInner":0.45,"paddingOuter":0.06},
  "axis":{"orient":"bottom","offset":-243,"labelAngle":-45,"labelAlign":"right","labelBaseline":"top","labelFontSize":8,"labelColor":"#222","labelPadding":1,"domainColor":"#000","domainWidth":1.5,"tickColor":"#000","tickSize":3,"title":"Groups","titleFontSize":9,"titleFontWeight":"normal","titleColor":"#222","titleX":381,"titleY":12,"titleBaseline":"middle"}},
 "y":{"field":"lo","type":"quantitative","scale":{"domain":[320,777],"range":[180,43],"nice":false,"zero":false},
  "axis":{"orient":"left","offset":-289,"values":[400,500,600,700],"labelFontSize":6,"labelColor":"#444","labelPadding":1,"tickSize":2,"tickColor":"#000","domainColor":"#000","domainWidth":1.5,"title":"chao1 index","titleFontSize":9,"titleFontWeight":"normal","titleColor":"#222","titleX":-19,"titleY":101,"titleBaseline":"middle"}},
 "y2":{"field":"hi"},
 "color":{"field":"g","type":"nominal","scale":{"domain":["C","HP","LP","M","MP"],"range":["#6FE38A","#E0486A","#3A3AF2","#B9A4EC","#FF6CB4"]},"legend":null}}},
{"data":{"name":"chaoBox"},"mark":{"type":"bar","fill":"white","strokeWidth":1.1},
 "encoding":{"x":{"field":"g","type":"nominal","scale":{"type":"band","domain":["C","HP","LP","M","MP"],"range":[289,438],"paddingInner":0.45,"paddingOuter":0.06},"axis":null},
 "y":{"field":"q1","type":"quantitative","scale":{"domain":[320,777],"range":[180,43],"nice":false,"zero":false},"axis":null},"y2":{"field":"q3"},
 "stroke":{"field":"g","type":"nominal","scale":{"domain":["C","HP","LP","M","MP"],"range":["#6FE38A","#E0486A","#3A3AF2","#B9A4EC","#FF6CB4"]},
  "legend":{"title":"category2","orient":"none","legendX":444,"legendY":88,"titleFontSize":7,"titleFontWeight":"normal","titleColor":"#222","labelFontSize":6.5,"labelColor":"#222","symbolType":"square","symbolSize":30,"symbolStrokeWidth":1,"symbolFillColor":"white","rowPadding":0,"labelOffset":2,"titlePadding":1,"padding":0}}}},
{"data":{"name":"chaoBox"},"mark":{"type":"tick","thickness":2,"size":17.5},
 "encoding":{"x":{"field":"g","type":"nominal","scale":{"type":"band","domain":["C","HP","LP","M","MP"],"range":[289,438],"paddingInner":0.45,"paddingOuter":0.06},"axis":null},
 "y":{"field":"med","type":"quantitative","scale":{"domain":[320,777],"range":[180,43],"nice":false,"zero":false},"axis":null},
 "color":{"field":"g","type":"nominal","scale":{"domain":["C","HP","LP","M","MP"],"range":["#6FE38A","#E0486A","#3A3AF2","#B9A4EC","#FF6CB4"]},"legend":null}}},
{"data":{"name":"chao"},"mark":{"type":"circle","size":5,"opacity":0.7},
 "encoding":{"x":{"field":"g","type":"nominal","scale":{"type":"band","domain":["C","HP","LP","M","MP"],"range":[289,438],"paddingInner":0.45,"paddingOuter":0.06},"axis":null},
 "y":{"field":"v","type":"quantitative","scale":{"domain":[320,777],"range":[180,43],"nice":false,"zero":false},"axis":null},
 "color":{"field":"g","type":"nominal","scale":{"domain":["C","HP","LP","M","MP"],"range":["#6FE38A","#E0486A","#3A3AF2","#B9A4EC","#FF6CB4"]},"legend":null}}},
{"data":{"values":[{}]},"mark":{"type":"text","font":"Liberation Serif","fontSize":15,"text":"C"},
 "encoding":{"x":{"datum":-0.65,"type":"quantitative","scale":{"domain":[-0.335,4.335],"range":[289,438],"nice":false,"zero":false},"axis":null},
 "y":{"datum":820,"type":"quantitative","scale":{"domain":[320,777],"range":[180,43],"nice":false,"zero":false},"axis":null}}},

{"data":{"name":"faithBox"},"mark":{"type":"rule","strokeWidth":1},
 "encoding":{"x":{"field":"g","type":"nominal","scale":{"type":"band","domain":["C","HP","LP","M","MP"],"range":[505,683],"paddingInner":0.4,"paddingOuter":0.48,"align":0.4},
  "axis":{"orient":"bottom","offset":-241,"labelAngle":-45,"labelAlign":"right","labelBaseline":"top","labelFontSize":8,"labelColor":"#222","labelPadding":1,"domainColor":"#000","domainWidth":1.5,"tickColor":"#000","tickSize":3,"title":"Groups","titleFontSize":9,"titleFontWeight":"normal","titleColor":"#222","titleX":600,"titleY":12,"titleBaseline":"middle"}},
 "y":{"field":"lo","type":"quantitative","scale":{"domain":[23.56,62.04],"range":[182,50],"nice":false,"zero":false},
  "axis":{"orient":"left","offset":-505,"values":[30,40,50,60],"labelFontSize":6.5,"labelColor":"#444","labelPadding":1,"tickSize":2,"tickColor":"#000","domainColor":"#000","domainWidth":1.5,"title":"faith_pd index","titleFontSize":9,"titleFontWeight":"normal","titleColor":"#222","titleX":-15,"titleY":88,"titleBaseline":"middle"}},
 "y2":{"field":"hi"},
 "color":{"field":"g","type":"nominal","scale":{"domain":["C","HP","LP","M","MP"],"range":["#44E36A","#E0244A","#2828EE","#B49AEA","#FF5CA8"]},"legend":null}}},
{"data":{"name":"faithBox"},"mark":{"type":"bar","fill":"white","strokeWidth":1.2},
 "encoding":{"x":{"field":"g","type":"nominal","scale":{"type":"band","domain":["C","HP","LP","M","MP"],"range":[505,683],"paddingInner":0.4,"paddingOuter":0.48,"align":0.4},"axis":null},
 "y":{"field":"q1","type":"quantitative","scale":{"domain":[23.56,62.04],"range":[182,50],"nice":false,"zero":false},"axis":null},"y2":{"field":"q3"},
 "stroke":{"field":"g","type":"nominal","scale":{"domain":["C","HP","LP","M","MP"],"range":["#44E36A","#E0244A","#2828EE","#B49AEA","#FF5CA8"]},
  "legend":{"title":"category2","orient":"none","legendX":672,"legendY":96,"titleFontSize":6.5,"titleFontWeight":"normal","titleColor":"#222","labelFontSize":6,"labelColor":"#222","symbolType":"circle","symbolSize":25,"symbolStrokeWidth":1,"symbolFillColor":"white","rowPadding":0,"labelOffset":2,"titlePadding":1,"padding":0}}}},
{"data":{"name":"faithBox"},"mark":{"type":"tick","thickness":1.5,"size":19},
 "encoding":{"x":{"field":"g","type":"nominal","scale":{"type":"band","domain":["C","HP","LP","M","MP"],"range":[505,683],"paddingInner":0.4,"paddingOuter":0.48,"align":0.4},"axis":null},
 "y":{"field":"med","type":"quantitative","scale":{"domain":[23.56,62.04],"range":[182,50],"nice":false,"zero":false},"axis":null},
 "color":{"field":"g","type":"nominal","scale":{"domain":["C","HP","LP","M","MP"],"range":["#44E36A","#E0244A","#2828EE","#B49AEA","#FF5CA8"]},"legend":null}}},
{"data":{"name":"faith"},"mark":{"type":"circle","size":5,"opacity":0.7},
 "encoding":{"x":{"field":"g","type":"nominal","scale":{"type":"band","domain":["C","HP","LP","M","MP"],"range":[505,683],"paddingInner":0.4,"paddingOuter":0.48,"align":0.4},"axis":null},
 "y":{"field":"v","type":"quantitative","scale":{"domain":[23.56,62.04],"range":[182,50],"nice":false,"zero":false},"axis":null},
 "color":{"field":"g","type":"nominal","scale":{"domain":["C","HP","LP","M","MP"],"range":["#44E36A","#E0244A","#2828EE","#B49AEA","#FF5CA8"]},"legend":null}}},
{"data":{"name":"brk"},"mark":{"type":"rule","strokeWidth":1.2,"color":"#111"},
 "encoding":{"x":{"field":"x","type":"quantitative","scale":{"domain":[-0.68,4.88],"range":[505,683],"nice":false,"zero":false},"axis":null},"x2":{"field":"x2"},
 "y":{"field":"y","type":"quantitative","scale":{"domain":[23.56,62.04],"range":[182,50],"nice":false,"zero":false},"axis":null},"y2":{"field":"y2"}}},
{"data":{"name":"stars"},"mark":{"type":"text","fontSize":10,"baseline":"alphabetic","color":"#111"},
 "encoding":{"x":{"field":"x","type":"quantitative","scale":{"domain":[-0.68,4.88],"range":[505,683],"nice":false,"zero":false},"axis":null},
 "y":{"field":"y","type":"quantitative","scale":{"domain":[23.56,62.04],"range":[182,50],"nice":false,"zero":false},"axis":null},"text":{"field":"s"}}},
{"data":{"values":[{}]},"mark":{"type":"text","font":"Liberation Serif","fontSize":15,"text":"D"},
 "encoding":{"x":{"datum":-0.43,"type":"quantitative","scale":{"domain":[-0.68,4.88],"range":[505,683],"nice":false,"zero":false},"axis":null},
 "y":{"datum":65.25,"type":"quantitative","scale":{"domain":[23.56,62.04],"range":[182,50],"nice":false,"zero":false},"axis":null}}},

{"data":{"values":[{}]},"mark":{"type":"rect","fill":"white","stroke":"#999","strokeWidth":0.7},
 "encoding":{"x":{"datum":-18.66,"type":"quantitative","scale":{"domain":[-18.66,25.07],"range":[257,407],"nice":false,"zero":false},"axis":null},"x2":{"datum":25.07},
 "y":{"datum":-25.95,"type":"quantitative","scale":{"domain":[-25.95,15.14],"range":[398,246],"nice":false,"zero":false},"axis":null},"y2":{"datum":15.14}}},
{"data":{"values":[{"v":-10},{"v":10},{"v":20}]},"mark":{"type":"rule","strokeWidth":0.5,"color":"#ececec"},
 "encoding":{"x":{"field":"v","type":"quantitative","scale":{"domain":[-18.66,25.07],"range":[257,407],"nice":false,"zero":false},"axis":null},
 "y":{"datum":-25.95,"type":"quantitative","scale":{"domain":[-25.95,15.14],"range":[398,246],"nice":false,"zero":false},"axis":null},"y2":{"datum":15.14}}},
{"data":{"values":[{"v":-20},{"v":-10},{"v":10}]},"mark":{"type":"rule","strokeWidth":0.5,"color":"#ececec"},
 "encoding":{"y":{"field":"v","type":"quantitative","scale":{"domain":[-25.95,15.14],"range":[398,246],"nice":false,"zero":false},"axis":null},
 "x":{"datum":-18.66,"type":"quantitative","scale":{"domain":[-18.66,25.07],"range":[257,407],"nice":false,"zero":false},"axis":null},"x2":{"datum":25.07}}},
{"data":{"values":[{}]},"mark":{"type":"rule","strokeWidth":0.6,"color":"#c4c4c4","strokeDash":[2,2]},
 "encoding":{"x":{"datum":0,"type":"quantitative","scale":{"domain":[-18.66,25.07],"range":[257,407],"nice":false,"zero":false},"axis":null},
 "y":{"datum":-25.95,"type":"quantitative","scale":{"domain":[-25.95,15.14],"range":[398,246],"nice":false,"zero":false},"axis":null},"y2":{"datum":15.14}}},
{"data":{"values":[{}]},"mark":{"type":"rule","strokeWidth":0.6,"color":"#c4c4c4","strokeDash":[2,2]},
 "encoding":{"y":{"datum":0,"type":"quantitative","scale":{"domain":[-25.95,15.14],"range":[398,246],"nice":false,"zero":false},"axis":null},
 "x":{"datum":-18.66,"type":"quantitative","scale":{"domain":[-18.66,25.07],"range":[257,407],"nice":false,"zero":false},"axis":null},"x2":{"datum":25.07}}},
{"data":{"values":[{}]},"mark":{"type":"rect","fill":"#d9d9d9","stroke":"#999","strokeWidth":0.7},
 "encoding":{"x":{"datum":-18.66,"type":"quantitative","scale":{"domain":[-18.66,25.07],"range":[257,407],"nice":false,"zero":false},"axis":null},"x2":{"datum":25.07},
 "y":{"datum":15.14,"type":"quantitative","scale":{"domain":[-25.95,15.14],"range":[398,246],"nice":false,"zero":false},"axis":null},"y2":{"datum":17.3}}},
{"data":{"values":[{}]},"mark":{"type":"text","fontSize":7,"fontWeight":"bold","color":"#222","text":"Supervised PLS-DA on OTUs"},
 "encoding":{"x":{"datum":6,"type":"quantitative","scale":{"domain":[-18.66,25.07],"range":[257,407],"nice":false,"zero":false},"axis":null},
 "y":{"datum":16.22,"type":"quantitative","scale":{"domain":[-25.95,15.14],"range":[398,246],"nice":false,"zero":false},"axis":null}}},
{"data":{"name":"ell"},"mark":{"type":"line","strokeWidth":1.1,"interpolate":"cardinal-closed"},
 "encoding":{"x":{"field":"x","type":"quantitative","scale":{"domain":[-18.66,25.07],"range":[257,407],"nice":false,"zero":false},"axis":null},
 "y":{"field":"y","type":"quantitative","scale":{"domain":[-25.95,15.14],"range":[398,246],"nice":false,"zero":false},"axis":null},
 "order":{"field":"i"},
 "color":{"field":"g","type":"nominal","scale":{"domain":["C","HP","LP","M","MP"],"range":["#55DD66","#E8334F","#2424E6","#A58FE6","#FF55AA"]},"legend":null}}},
{"data":{"name":"pls"},"mark":{"type":"point","filled":false,"size":14,"strokeWidth":0.8},
 "encoding":{"x":{"field":"x","type":"quantitative","scale":{"domain":[-18.66,25.07],"range":[257,407],"nice":false,"zero":false},
  "axis":{"orient":"bottom","offset":-25,"values":[-10,0,10,20],"labelFontSize":6,"labelColor":"#555","tickSize":2,"tickColor":"#999","domain":false,"labelPadding":1,"title":"X-variate 1: 7% expl. var","titleFontSize":7,"titleFontWeight":"normal","titleColor":"#222","titlePadding":1}},
 "y":{"field":"y","type":"quantitative","scale":{"domain":[-25.95,15.14],"range":[398,246],"nice":false,"zero":false},
  "axis":{"orient":"left","offset":-257,"values":[-20,-10,0,10],"labelFontSize":6,"labelColor":"#555","tickSize":2,"tickColor":"#999","domain":false,"labelPadding":1,"title":"X-variate 2: 5% expl. var","titleFontSize":7,"titleFontWeight":"normal","titleColor":"#222","titlePadding":1}},
 "color":{"field":"g","type":"nominal","scale":{"domain":["C","HP","LP","M","MP"],"range":["#55DD66","#E8334F","#2424E6","#A58FE6","#FF55AA"]},
  "legend":{"title":"Legend","orient":"none","legendX":409,"legendY":303,"titleFontSize":6.5,"titleFontWeight":"normal","titleColor":"#222","labelFontSize":6,"labelColor":"#222","symbolSize":14,"rowPadding":0,"labelOffset":2,"padding":0,"titlePadding":1}},
 "shape":{"field":"g","type":"nominal","scale":{"domain":["C","HP","LP","M","MP"],"range":["circle","triangle-up","M-1,0L1,0M0,-1L0,1","M-0.8,-0.8L0.8,0.8M-0.8,0.8L0.8,-0.8","diamond"]},
  "legend":{"title":"Legend","orient":"none","legendX":409,"legendY":303,"titleFontSize":6.5,"titleFontWeight":"normal","titleColor":"#222","labelFontSize":6,"labelColor":"#222","symbolSize":14,"rowPadding":0,"labelOffset":2,"padding":0,"titlePadding":1}}}},
{"data":{"values":[{}]},"mark":{"type":"text","font":"Liberation Serif","fontSize":14,"text":"E"},
 "encoding":{"x":{"datum":-22.7,"type":"quantitative","scale":{"domain":[-18.66,25.07],"range":[257,407],"nice":false,"zero":false},"axis":null},
 "y":{"datum":16.2,"type":"quantitative","scale":{"domain":[-25.95,15.14],"range":[398,246],"nice":false,"zero":false},"axis":null}}},

{"data":{"values":[{}]},"mark":{"type":"rect","fill":"#EBEBEB"},
 "encoding":{"x":{"datum":-5,"type":"quantitative","scale":{"domain":[-5,105],"range":[465.5,651.4],"nice":false,"zero":false},"axis":null},"x2":{"datum":105},
 "y":{"datum":-5,"type":"quantitative","scale":{"domain":[-5,105],"range":[397,230.8],"nice":false,"zero":false},"axis":null},"y2":{"datum":105}}},
{"data":{"values":[{}]},"mark":{"type":"rect","fill":"#F2F2F2"},
 "encoding":{"x":{"datum":105.3,"type":"quantitative","scale":{"domain":[-5,105],"range":[465.5,651.4],"nice":false,"zero":false},"axis":null},"x2":{"datum":116},
 "y":{"datum":15.5,"type":"quantitative","scale":{"domain":[-5,105],"range":[397,230.8],"nice":false,"zero":false},"axis":null},"y2":{"datum":77.7}}},
{"data":{"name":"gF"},"mark":{"type":"rule","color":"white"},
 "encoding":{"x":{"field":"v","type":"quantitative","scale":{"domain":[-5,105],"range":[465.5,651.4],"nice":false,"zero":false},"axis":null},
 "y":{"datum":-5,"type":"quantitative","scale":{"domain":[-5,105],"range":[397,230.8],"nice":false,"zero":false},"axis":null},"y2":{"datum":105},
 "strokeWidth":{"field":"k","type":"nominal","scale":{"domain":["maj","min"],"range":[0.9,0.45]},"legend":null}}},
{"data":{"name":"gF"},"mark":{"type":"rule","color":"white"},
 "encoding":{"y":{"field":"v","type":"quantitative","scale":{"domain":[-5,105],"range":[397,230.8],"nice":false,"zero":false},"axis":null},
 "x":{"datum":-5,"type":"quantitative","scale":{"domain":[-5,105],"range":[465.5,651.4],"nice":false,"zero":false},"axis":null},"x2":{"datum":105},
 "strokeWidth":{"field":"k","type":"nominal","scale":{"domain":["maj","min"],"range":[0.9,0.45]},"legend":null}}},
{"data":{"values":[{}]},"mark":{"type":"rule","color":"#333","strokeWidth":0.6},
 "encoding":{"x":{"datum":-5,"type":"quantitative","scale":{"domain":[-5,105],"range":[465.5,651.4],"nice":false,"zero":false},"axis":null},"x2":{"datum":105},
 "y":{"datum":-5,"type":"quantitative","scale":{"domain":[-5,105],"range":[397,230.8],"nice":false,"zero":false},"axis":null},"y2":{"datum":105}}},
{"data":{"name":"roc"},"mark":{"type":"line","strokeWidth":1.4},
 "encoding":{"x":{"field":"x","type":"quantitative","scale":{"domain":[-5,105],"range":[465.5,651.4],"nice":false,"zero":false},
  "axis":{"orient":"bottom","offset":-26,"values":[0,10,20,30,40,50,60,70,80,90,100],"labelFontSize":5.5,"labelColor":"#4d4d4d","tickSize":2,"tickColor":"#333","domain":false,"labelPadding":1,"title":"100 - Specificity (%)","titleFontSize":6.5,"titleFontWeight":"normal","titleColor":"#222","titlePadding":1}},
 "y":{"field":"y","type":"quantitative","scale":{"domain":[-5,105],"range":[397,230.8],"nice":false,"zero":false},
  "axis":{"orient":"left","offset":-465.5,"values":[0,10,20,30,40,50,60,70,80,90,100],"labelFontSize":5.5,"labelColor":"#4d4d4d","tickSize":2,"tickColor":"#333","domain":false,"labelPadding":1,"title":"Sensitivity (%)","titleFontSize":5,"titleFontWeight":"normal","titleColor":"#222","titlePadding":2}},
 "order":{"field":"i"},
 "color":{"field":"g","type":"nominal","scale":{"domain":["C vs Other(s): 1","HP vs Other(s): 0.9801","LP vs Other(s): 0.5486","M vs Other(s): 0.9653","MP vs Other(s): 0.8056"],"range":["#F8766D","#A3A500","#00BF7D","#00B0F6","#E76BF3"]},
  "legend":{"title":"Outcome","orient":"none","legendX":653,"legendY":261,"titleFontSize":7,"titleFontWeight":"bold","titleColor":"#222","labelFontSize":4.5,"labelColor":"#222","symbolType":"stroke","symbolSize":70,"symbolStrokeWidth":1.8,"rowPadding":11,"labelOffset":9,"padding":0,"titlePadding":6}}}},
{"data":{"values":[{}]},"mark":{"type":"text","fontSize":7,"fontWeight":"bold","color":"#222","text":"ROC Curve Comp 2"},
 "encoding":{"x":{"datum":49,"type":"quantitative","scale":{"domain":[-5,105],"range":[465.5,651.4],"nice":false,"zero":false},"axis":null},
 "y":{"datum":109.5,"type":"quantitative","scale":{"domain":[-5,105],"range":[397,230.8],"nice":false,"zero":false},"axis":null}}},
{"data":{"values":[{}]},"mark":{"type":"text","font":"Liberation Serif","fontSize":14,"text":"F"},
 "encoding":{"x":{"datum":-15.2,"type":"quantitative","scale":{"domain":[-5,105],"range":[465.5,651.4],"nice":false,"zero":false},"axis":null},
 "y":{"datum":97.7,"type":"quantitative","scale":{"domain":[-5,105],"range":[397,230.8],"nice":false,"zero":false},"axis":null}}}
]
}
